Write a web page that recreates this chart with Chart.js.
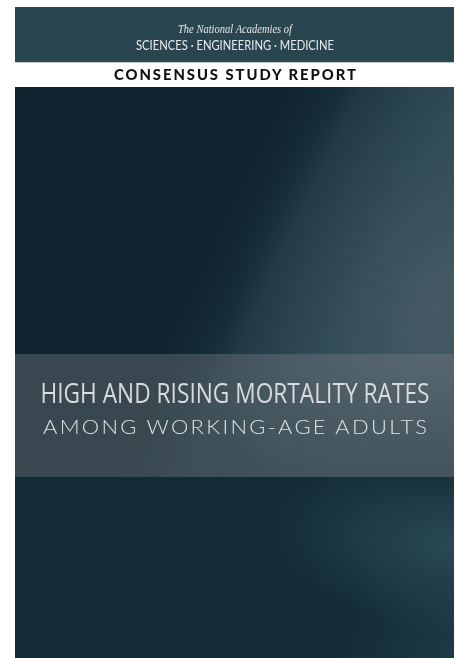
<!DOCTYPE html>
<html>
<head>
<meta charset="utf-8">
<script src="https://cdn.jsdelivr.net/npm/chart.js@4.4.1/dist/chart.umd.min.js"></script>
<style>
  html, body { margin: 0; padding: 0; background: #fff; width: 456px; height: 658px; overflow: hidden; }
  #cover { position: absolute; left: 15px; top: 7px; width: 439px; height: 651px; overflow: hidden; }
  #cover canvas { position: absolute; left: 0; top: 0; }
  .line { position: absolute; left: 0; width: 100%; white-space: nowrap; }
  .line span { position: absolute; left: 50%; top: 0; white-space: nowrap; transform-origin: 0 50%; }
</style>
</head>
<body>
<div id="cover">
  <canvas id="coverChart"></canvas>
  <div id="texts"></div>
</div>
<script>
// text content of the cover
const publisherLines = ['The National Academies of', 'SCIENCES · ENGINEERING · MEDICINE'];
const seriesLabels = ['CONSENSUS STUDY REPORT'];
const titleLines = ['HIGH AND RISING MORTALITY RATES', 'AMONG WORKING-AGE ADULTS'];

// how each line is set (centre of caps from cover top, target width)
const lineStyles = [
  { text: publisherLines[0], center: 21, width: 114, font: 'italic 400 13px "Liberation Serif", "DejaVu Serif", serif', color: '#e3e8ea', spacing: 0 },
  { text: publisherLines[1], center: 38, width: 198, font: '400 13px Lato, "Open Sans", sans-serif', color: '#e8eced', spacing: 0 },
  { text: seriesLabels[0], center: 67, width: 242, font: '900 15px Lato, "Open Sans", sans-serif', color: '#111', spacing: 2 },
  { text: titleLines[0], center: 385.5, width: 389, font: '400 27px "Open Sans", Roboto, sans-serif', color: '#d9dcde', spacing: 0 },
  { text: titleLines[1], center: 419.5, width: 384, font: '300 19px Lato, "Open Sans", sans-serif', color: '#dfe2e4', spacing: 2 }
];

const BASE = '#10252f';

// paints the cover artwork behind the (empty) chart area
const coverBackground = {
  id: 'coverBackground',
  beforeDraw(chart) {
    const { ctx, width: w, height: h } = chart;
    ctx.save();
    // top publisher band
    ctx.fillStyle = '#284550';
    ctx.fillRect(0, 0, w, 55);
    ctx.fillStyle = '#c3ccd0';
    ctx.fillRect(0, 55, w, 1);
    ctx.fillStyle = '#ffffff';
    ctx.fillRect(0, 56, w, 24);

    // main dark panel
    const top = 80;
    ctx.fillStyle = BASE;
    ctx.fillRect(0, top, w, h - top);

    // upper part: light field on the right with a slanted edge
    ctx.save();
    ctx.beginPath();
    ctx.rect(0, top, w, 470 - top);
    ctx.clip();
    let g = ctx.createLinearGradient(220, 180, 440, 285);
    g.addColorStop(0, 'rgba(16,37,47,0)');
    g.addColorStop(0.3, 'rgba(32,58,70,0.9)');
    g.addColorStop(0.65, 'rgba(44,72,84,1)');
    g.addColorStop(1, 'rgba(52,78,90,1)');
    ctx.fillStyle = g;
    ctx.fillRect(0, top, w, 470 - top);
    // brighter spot lower right
    ctx.translate(420, 300);
    ctx.rotate(0.35);
    ctx.scale(1, 1.4);
    g = ctx.createRadialGradient(0, 0, 0, 0, 0, 200);
    g.addColorStop(0, 'rgba(78,96,106,0.7)');
    g.addColorStop(0.5, 'rgba(70,90,100,0.3)');
    g.addColorStop(1, 'rgba(70,90,100,0)');
    ctx.fillStyle = g;
    ctx.fillRect(-300, -300, 600, 600);
    ctx.restore();

    // fade the glow downwards inside the title band
    g = ctx.createLinearGradient(0, 360, 0, 470);
    g.addColorStop(0, 'rgba(16,37,47,0)');
    g.addColorStop(1, 'rgba(16,37,47,0.55)');
    ctx.fillStyle = g;
    ctx.fillRect(0, 360, w, 110);

    // lower part: slightly lighter teal with a streak on the right
    ctx.save();
    ctx.beginPath();
    ctx.rect(0, 470, w, h - 470);
    ctx.clip();
    ctx.fillStyle = 'rgba(22,48,60,0.6)';
    ctx.fillRect(0, 470, w, h - 470);
    ctx.translate(445, 540);
    ctx.rotate(0.12);
    ctx.scale(2.2, 1);
    g = ctx.createRadialGradient(0, 0, 0, 0, 0, 90);
    g.addColorStop(0, 'rgba(45,80,92,0.85)');
    g.addColorStop(1, 'rgba(45,80,92,0)');
    ctx.fillStyle = g;
    ctx.fillRect(-200, -200, 400, 400);
    ctx.restore();
    g = ctx.createRadialGradient(450, 650, 0, 450, 650, 130);
    g.addColorStop(0, 'rgba(35,66,78,0.7)');
    g.addColorStop(1, 'rgba(35,66,78,0)');
    ctx.fillStyle = g;
    ctx.fillRect(0, 470, w, h - 470);

    // translucent title band
    ctx.fillStyle = 'rgba(120,126,130,0.4)';
    ctx.fillRect(0, 347, w, 123);
    ctx.restore();
  }
};

new Chart(document.getElementById('coverChart'), {
  type: 'bar',
  data: { labels: [], datasets: [] },
  options: {
    responsive: true,
    maintainAspectRatio: false,
    animation: false,
    layout: { padding: 0 },
    scales: { x: { display: false }, y: { display: false } },
    plugins: { legend: { display: false }, tooltip: { enabled: false } }
  },
  plugins: [coverBackground]
});

const texts = document.getElementById('texts');
lineStyles.forEach(s => {
  const div = document.createElement('div');
  div.className = 'line';
  const size = parseFloat(s.font.match(/(\d+)px/)[1]);
  div.style.top = (s.center - size / 2) + 'px';
  div.style.height = size + 'px';
  const span = document.createElement('span');
  span.textContent = s.text;
  span.style.font = s.font;
  span.style.lineHeight = size + 'px';
  span.style.color = s.color;
  span.style.letterSpacing = s.spacing + 'px';
  div.appendChild(span);
  texts.appendChild(div);
  s.span = span;
});

// squeeze or stretch each line to the width it has on the cover, centred
const fitLines = () => {
  lineStyles.forEach(s => {
    s.span.style.transform = 'none';
    const wNat = s.span.getBoundingClientRect().width - s.spacing;
    const k = s.width / wNat;
    s.span.style.transform = `translateX(${-s.width / 2}px) scaleX(${k})`;
  });
};
fitLines();
if (document.fonts) document.fonts.ready.then(fitLines);
</script>
</body>
</html>
